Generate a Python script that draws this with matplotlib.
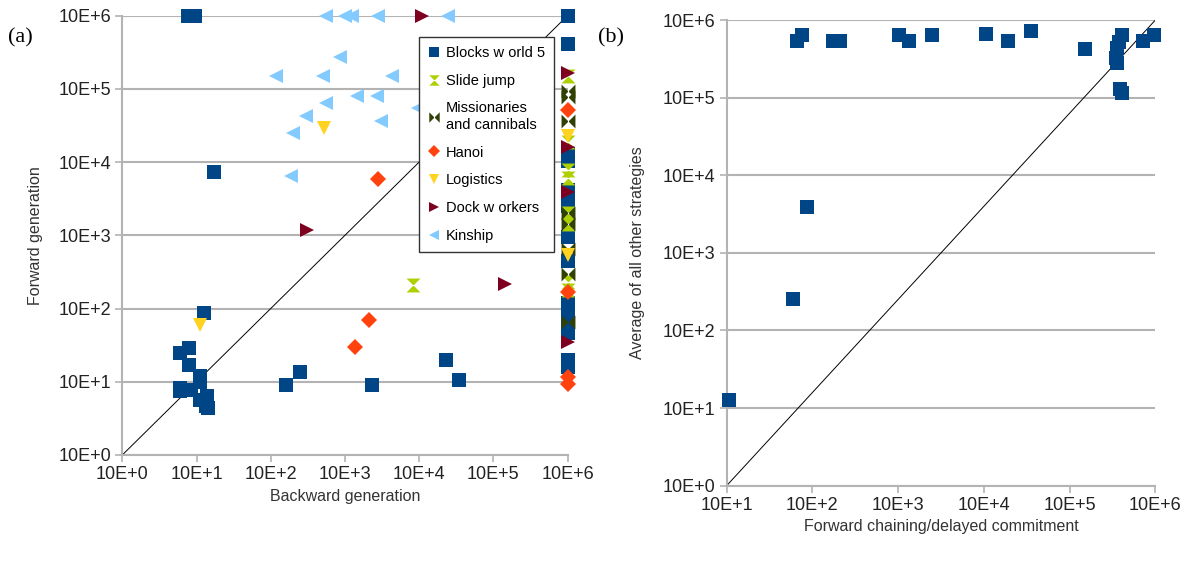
import numpy as np
import matplotlib
matplotlib.use('Agg')
import matplotlib.pyplot as plt
from matplotlib.path import Path

plt.rcParams['font.family'] = ['Liberation Sans', 'DejaVu Sans']

# ---- panel (a): backward generation (x) vs forward generation (y) ----
blocks_x = [7.6, 9.5, 17, 12.7, 6, 8, 8, 11, 6, 8.5, 11, 14, 14.5, 6, 11, 13.5,
            162, 245, 2290, 22900, 35000,
            1e6, 1e6, 1e6, 1e6, 1e6, 1e6, 1e6, 1e6, 1e6, 1e6, 1e6, 1e6, 1e6, 1e6, 1e6]
blocks_y = [1e6, 1e6, 7400, 87, 25, 29, 17, 12, 7.6, 7.8, 10, 6.3, 4.4, 8.1, 5.6, 4.6,
            9, 13.8, 9, 19.9, 10.5,
            1e6, 4.1e5, 1.3e4, 1.05e4, 4200, 3000, 950, 440, 118, 87, 63, 46, 20, 16, 2500]

slide_x = [8300, 1e6, 1e6, 1e6, 1e6, 1e6, 1e6, 1e6, 1e6]
slide_y = [209, 1.5e5, 1.86e4, 7800, 6000, 2000, 1450, 230, 178]

miss_x = [1e6, 1e6, 1e6, 1e6, 1e6, 1e6, 1e6, 1e6]
miss_y = [9.5e4, 7.8e4, 3.7e4, 2000, 1450, 660, 300, 66]

hanoi_x = [2750, 1350, 2140, 1e6, 1e6, 1e6, 1e6]
hanoi_y = [5900, 30, 69, 5.1e4, 170, 11.7, 9.3]

logis_x = [525, 11, 1e6, 1e6]
logis_y = [2.9e4, 59, 2.3e4, 540]

dock_x = [11000, 310, 145000, 1e6, 1e6, 1e6, 1e6]
dock_y = [1e6, 1180, 214, 1.66e5, 1.6e4, 3900, 35]

kin_x = [550, 1000, 1230, 2750, 24500, 870, 117, 513, 4270, 1450, 2690, 560, 9800,
         300, 3100, 200, 186]
kin_y = [1e6, 1e6, 1e6, 1e6, 1e6, 2.75e5, 1.48e5, 1.51e5, 1.51e5, 8.1e4, 8.1e4, 6.5e4,
         5.4e4, 4.2e4, 3.7e4, 2.5e4, 6500]

# ---- panel (b): forward chaining/delayed commitment vs average of others ----
fc_x = [10.7, 59, 87, 66, 76, 174, 209, 1020, 1350, 2450, 10700, 19000, 35500,
        151000, 407000, 372000, 355000, 347000, 355000, 389000, 407000, 724000, 955000]
fc_y = [12.6, 257, 3900, 5.4e5, 6.5e5, 5.4e5, 5.4e5, 6.5e5, 5.4e5, 6.5e5, 6.6e5,
        5.4e5, 7.2e5, 4.2e5, 6.5e5, 5.2e5, 4.3e5, 3.2e5, 2.8e5, 1.28e5, 1.15e5,
        5.4e5, 6.5e5]

ticks_a = [10 ** k for k in range(0, 7)]
ticks_bx = [10 ** k for k in range(1, 7)]

# custom markers
hourglass = Path([(-1, 1), (1, 1), (-1, -1), (1, -1), (-1, 1)],
                 [Path.MOVETO, Path.LINETO, Path.LINETO, Path.LINETO, Path.CLOSEPOLY])
bowtie = Path([(-1, 1), (-1, -1), (1, 1), (1, -1), (-1, 1)],
              [Path.MOVETO, Path.LINETO, Path.LINETO, Path.LINETO, Path.CLOSEPOLY])

GRID = '#b3b3b3'


def style_axes(ax, xt, yt):
    ax.set_xscale('log')
    ax.set_yscale('log')
    ax.set_xlim(xt[0], xt[-1])
    ax.set_ylim(yt[0], yt[-1])
    ax.set_xticks(xt)
    ax.set_yticks(yt)
    ax.set_xticklabels(['10E+%d' % int(round(np.log10(v))) for v in xt])
    ax.set_yticklabels(['10E+%d' % int(round(np.log10(v))) for v in yt])
    ax.minorticks_off()
    ax.tick_params(which='major', direction='out', length=5, width=1.2, color=GRID,
                   labelsize=13, labelcolor='#222222', pad=3)
    for s in ['top', 'right']:
        ax.spines[s].set_visible(False)
    for s in ['left', 'bottom']:
        ax.spines[s].set_color(GRID)
        ax.spines[s].set_linewidth(1.5)
    ax.yaxis.grid(True, color=GRID, linewidth=1.5)
    ax.set_axisbelow(True)


fig = plt.figure(figsize=(11.92, 5.62), dpi=100)

ax1 = fig.add_axes([0.1026, 0.1904, 0.3735, 0.7817])
style_axes(ax1, ticks_a, ticks_a)
ax1.plot([1, 1e6], [1, 1e6], color='black', linewidth=0.7, zorder=2)
ms = 10
ax1.plot(blocks_x, blocks_y, 's', color='#004586', ms=ms, mew=0, label='Blocks w orld 5', zorder=3, clip_on=False)
ax1.plot(slide_x, slide_y, marker=hourglass, ls='none', color='#aecf00', ms=10, mew=0, label='Slide jump', zorder=3, clip_on=False)
ax1.plot(miss_x, miss_y, marker=bowtie, ls='none', color='#314004', ms=10, mew=0,
         label='Missionaries\nand cannibals', zorder=3, clip_on=False)
ax1.plot(hanoi_x, hanoi_y, 'D', color='#ff420e', ms=8, mew=0, label='Hanoi', zorder=3, clip_on=False)
ax1.plot(logis_x, logis_y, 'v', color='#ffd320', ms=10, mew=0, label='Logistics', zorder=3, clip_on=False)
ax1.plot(dock_x, dock_y, '>', color='#7e0021', ms=10, mew=0, label='Dock w orkers', zorder=3, clip_on=False)
ax1.plot(kin_x, kin_y, '<', color='#83caff', ms=10, mew=0, label='Kinship', zorder=3, clip_on=False)
ax1.set_xlabel('Backward generation', fontsize=11.5, color='#333333', labelpad=4)
ax1.set_ylabel('Forward generation', fontsize=11.5, color='#333333', labelpad=11)
leg = ax1.legend(loc='upper right', bbox_to_anchor=(0.985, 0.968), fontsize=10.5, markerscale=0.75,
                 handlelength=0.8, handletextpad=0.4, borderpad=0.6, labelspacing=0.95,
                 fancybox=False, framealpha=1, edgecolor='#333333')
leg.get_frame().set_linewidth(1.0)
leg.set_zorder(5)

ax2 = fig.add_axes([0.6096, 0.1358, 0.3597, 0.8286])
style_axes(ax2, ticks_bx, ticks_a)
ax2.plot([10, 1e6], [1, 1e6], color='black', linewidth=0.7, zorder=2)
ax2.plot(fc_x, fc_y, 's', color='#004586', ms=ms, mew=0, zorder=3, clip_on=False)
ax2.set_xlabel('Forward chaining/delayed commitment', fontsize=11.5, color='#333333', labelpad=4)
ax2.set_ylabel('Average of all other strategies', fontsize=11.5, color='#333333', labelpad=13)

fig.text(0.007, 0.925, '(a)', fontsize=16, family=['Liberation Serif', 'DejaVu Serif'])
fig.text(0.502, 0.925, '(b)', fontsize=16, family=['Liberation Serif', 'DejaVu Serif'])

fig.savefig('out.png', dpi=100)
